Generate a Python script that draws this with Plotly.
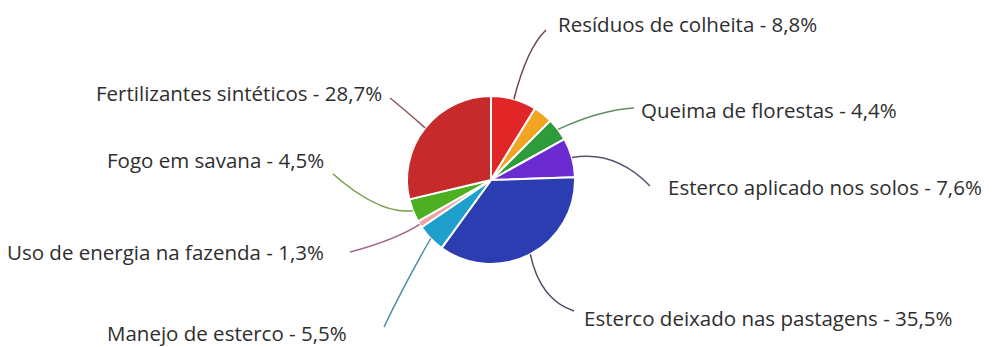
import math
import plotly.graph_objects as go

# ---- data ----
categories = ["Resíduos de colheita", "Outros", "Queima de florestas",
              "Esterco aplicado nos solos", "Esterco deixado nas pastagens",
              "Manejo de esterco", "Uso de energia na fazenda",
              "Fogo em savana", "Fertilizantes sintéticos"]
values = [8.8, 3.7, 4.4, 7.6, 35.5, 5.5, 1.3, 4.5, 28.7]
show_label = [True, False, True, True, True, True, True, True, True]
slice_colors = ["#E02626", "#F2A423", "#2F9B3B", "#6B2BD0", "#2C3DB1",
                "#1FA0CC", "#EBA3A3", "#4DB022", "#C62A2A"]
line_colors = ["#6A4A4A", None, "#5E8E5E", "#5A5070", "#4A4E60",
               "#4A8EA6", "#A4658A", "#74A048", "#8E5656"]

# ---- layout helpers (pixel geometry) ----
W, H = 997, 347
CX, CY, R = 491, 180, 84
# label text anchor (x, y, xanchor) and a leader-line control point
label_pos = {
    "Resíduos de colheita": (556, 24, "left", (527, 48)),
    "Queima de florestas": (639, 110, "left", (600, 110)),
    "Esterco aplicado nos solos": (666, 187, "left", (615, 150)),
    "Esterco deixado nas pastagens": (582, 318, "left", (540, 300)),
    "Manejo de esterco": (349, 333, "right", (404, 285)),
    "Uso de energia na fazenda": (326, 252, "right", (395, 240)),
    "Fogo em savana": (326, 160, "right", (380, 215)),
    "Fertilizantes sintéticos": (384, 93, "right", (405, 110)),
}
line_start = {
    "Resíduos de colheita": (546, 30),
    "Queima de florestas": (634, 108),
    "Esterco aplicado nos solos": (650, 186),
    "Esterco deixado nas pastagens": (574, 311),
    "Manejo de esterco": (384, 327),
    "Uso de energia na fazenda": (350, 252),
    "Fogo em savana": (333, 174),
    "Fertilizantes sintéticos": (390, 98),
}

fig = go.Figure()
fig.add_trace(go.Pie(
    labels=categories, values=values, sort=False, direction="clockwise",
    rotation=0, textinfo="none", hoverinfo="label+percent",
    marker=dict(colors=slice_colors, line=dict(color="white", width=2)),
    domain=dict(x=[(CX - R) / W, (CX + R) / W], y=[1 - (CY + R) / H, 1 - (CY - R) / H]),
    showlegend=False,
))

total = sum(values)
cum = 0.0
shapes = []
annotations = []
for name, v, show, lc in zip(categories, values, show_label, line_colors):
    mid = (cum + v / 2) / total * 2 * math.pi
    cum += v
    if not show:
        continue
    ex = CX + R * math.sin(mid)
    ey = CY - R * math.cos(mid)
    tx, ty, anchor, ctrl = label_pos[name]
    sx, sy = line_start[name]
    shapes.append(dict(
        type="path", xref="x", yref="y",
        path=f"M {sx},{sy} Q {ctrl[0]},{ctrl[1]} {ex:.1f},{ey:.1f}",
        line=dict(color=lc, width=1.5),
    ))
    txt = f"{name} - {v:.1f}".replace(".", ",") + "%"
    annotations.append(dict(
        x=tx, y=ty, xref="x", yref="y", text=txt, showarrow=False,
        xanchor=anchor, yanchor="middle",
        font=dict(family="Open Sans", size=20.5, color="#2E2E2E"),
    ))

fig.update_layout(
    width=W, height=H, margin=dict(l=0, r=0, t=0, b=0),
    paper_bgcolor="white", plot_bgcolor="rgba(0,0,0,0)",
    xaxis=dict(range=[0, W], visible=False, fixedrange=True),
    yaxis=dict(range=[H, 0], visible=False, fixedrange=True),
    shapes=shapes, annotations=annotations,
)
fig.write_html("out.html")
